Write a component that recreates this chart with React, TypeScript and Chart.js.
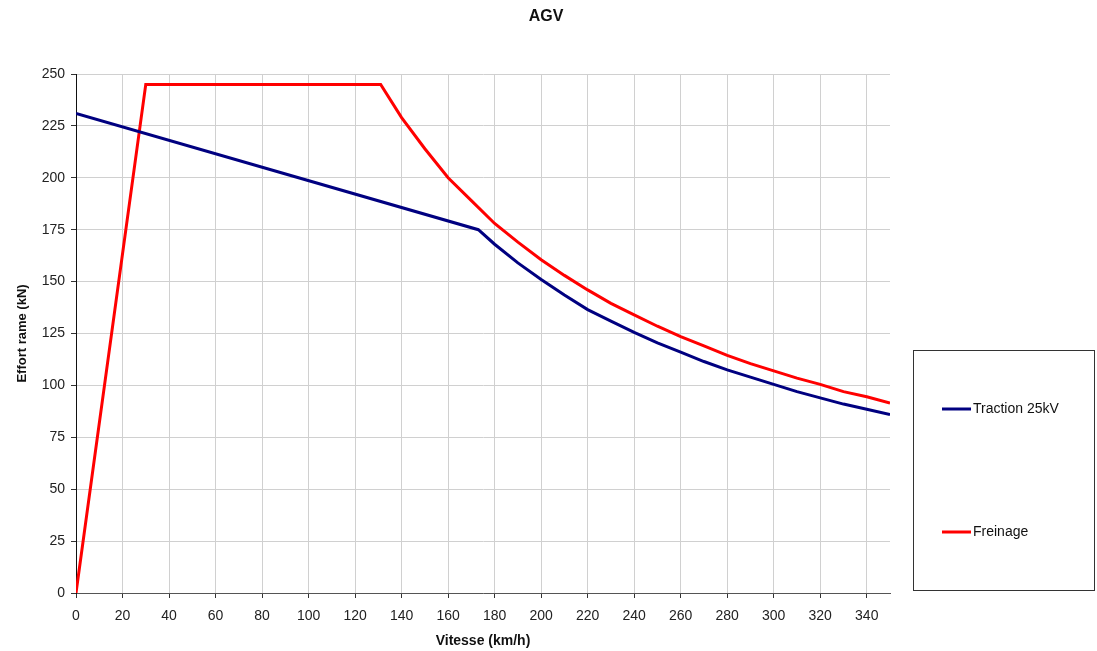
import React, { useEffect, useRef } from "react";
import { Chart, registerables } from "chart.js";

Chart.register(...registerables);

const titleText = "AGV";
const xTitle = "Vitesse (km/h)";
const yTitle = "Effort rame (kN)";

const xTickValues = [0, 20, 40, 60, 80, 100, 120, 140, 160, 180, 200, 220, 240, 260, 280, 300, 320, 340];

const tractionLabel = "Traction 25kV";
const tractionSpeed = [0, 173, 180, 190, 200, 210, 220, 230, 240, 250, 260, 270, 280, 290, 300, 310, 320, 330, 340, 350];
const tractionForce = [231, 175, 168, 159, 151, 143.5, 136.5, 131, 125.5, 120.5, 116, 111.5, 107.5, 104, 100.5, 97, 94, 91, 88.5, 86];

const freinageLabel = "Freinage";
const freinageSpeed = [0, 30, 131, 140, 150, 160, 170, 180, 190, 200, 210, 220, 230, 240, 250, 260, 270, 280, 290, 300, 310, 320, 330, 340, 350];
const freinageForce = [0, 245, 245, 229, 214, 200, 189, 178, 169, 160.5, 153, 146, 139.5, 134, 128.5, 123.5, 119, 114.5, 110.5, 107, 103.5, 100.5, 97, 94.5, 91.5];

const FONT = "'Liberation Sans', Arial, sans-serif";

const decor = {
  id: "decor",
  afterDraw(chart: any) {
    const ctx = chart.ctx;
    ctx.save();
    // title
    ctx.fillStyle = "#111";
    ctx.font = "bold 16px " + FONT;
    ctx.textAlign = "center";
    ctx.textBaseline = "middle";
    ctx.fillText(titleText, 546, 17);
    // legend box
    const x0 = 913.5, y0 = 350.5, w = 181, h = 240;
    ctx.strokeStyle = "#333";
    ctx.lineWidth = 1;
    ctx.strokeRect(x0, y0, w, h);
    const rows = [409, 532];
    chart.data.datasets.forEach((ds: any, i: number) => {
      const y = rows[i];
      ctx.strokeStyle = ds.borderColor;
      ctx.lineWidth = 3;
      ctx.beginPath();
      ctx.moveTo(942, y);
      ctx.lineTo(971, y);
      ctx.stroke();
      ctx.fillStyle = "#111";
      ctx.font = "14px " + FONT;
      ctx.textBaseline = "middle";
      ctx.textAlign = "left";
      ctx.fillText(ds.label, 973, y);
    });
    ctx.restore();
  },
};

export default function App() {
  const ref = useRef<HTMLCanvasElement>(null);
  useEffect(() => {
    const chart = new Chart(ref.current!, {
      type: "scatter",
      data: {
        datasets: [
          {
            label: tractionLabel,
            data: tractionSpeed.map((x, i) => ({ x, y: tractionForce[i] })),
            borderColor: "#000080",
            backgroundColor: "#000080",
            showLine: true,
            borderWidth: 3,
            pointRadius: 0,
            tension: 0,
          },
          {
            label: freinageLabel,
            data: freinageSpeed.map((x, i) => ({ x, y: freinageForce[i] })),
            borderColor: "#ff0000",
            backgroundColor: "#ff0000",
            showLine: true,
            borderWidth: 3,
            pointRadius: 0,
            tension: 0,
          },
        ],
      },
      options: {
        animation: false,
        responsive: false,
        layout: { padding: { top: 74, right: 207, bottom: 0, left: 0 } },
        plugins: {
          legend: { display: false },
          tooltip: { enabled: false },
          title: { display: false },
        },
        scales: {
          x: {
            type: "linear",
            min: 0,
            max: 350,
            afterBuildTicks: (s: any) => {
              s.ticks = xTickValues.map((v) => ({ value: v }));
            },
            afterFit: (s: any) => {
              s.height = 58;
            },
            ticks: {
              color: "#222",
              font: { family: FONT, size: 14 },
              padding: 10,
              maxRotation: 0,
              autoSkip: false,
            },
            grid: { color: "#d0d0d0", tickColor: "#333", tickLength: 5, lineWidth: 1 },
            border: { color: "#555", width: 1 },
            title: {
              display: true,
              text: xTitle,
              color: "#111",
              font: { family: FONT, size: 14, weight: "bold" },
              padding: { top: 0, bottom: 1 },
            },
          },
          y: {
            type: "linear",
            min: 0,
            max: 250,
            afterFit: (s: any) => {
              s.width = 76;
            },
            ticks: {
              stepSize: 25,
              color: "#222",
              font: { family: FONT, size: 14 },
              padding: 6,
            },
            grid: { color: "#d0d0d0", tickColor: "#333", tickLength: 5, lineWidth: 1 },
            border: { color: "#111", width: 1 },
            title: {
              display: true,
              text: yTitle,
              color: "#111",
              font: { family: FONT, size: 13, weight: "bold" },
              padding: { top: 15, bottom: 0 },
            },
          },
        },
      },
      plugins: [decor],
    });
    return () => chart.destroy();
  }, []);
  return (
    <div style={{ position: "fixed", left: 0, top: 0, width: 1097, height: 651, background: "#fff" }}>
      <canvas ref={ref} width={1097} height={651} style={{ display: "block" }} />
    </div>
  );
}
